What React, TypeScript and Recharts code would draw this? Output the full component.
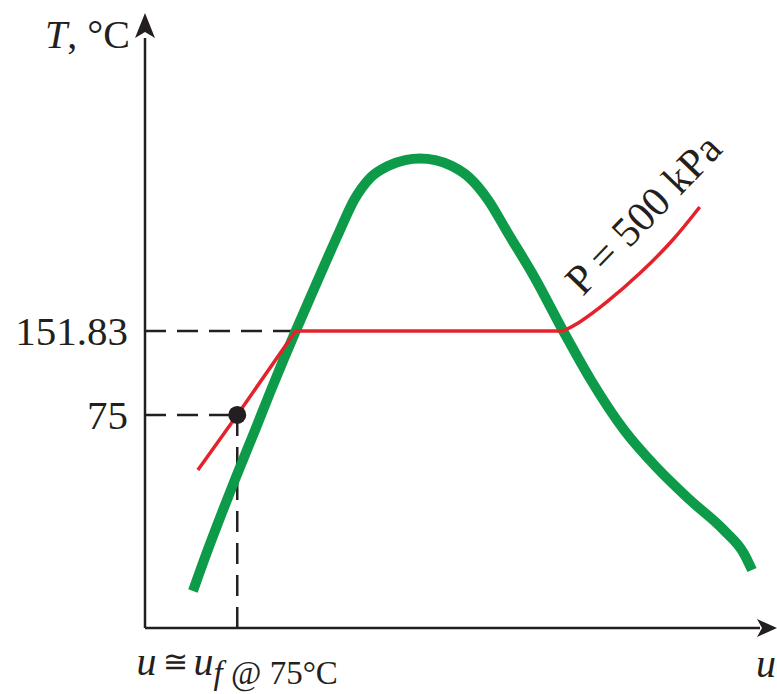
import { LineChart, Line, XAxis, YAxis, ReferenceLine, ReferenceDot } from 'recharts';

// Saturation dome (u in arbitrary units, T in °C)
const domeU = [7.8, 10.2, 12.5, 14.8, 17.9, 20.3, 22.5, 24.5, 27.9, 31.5, 34.0, 36.6, 39.5, 42.3, 44.7, 47.2, 49.9, 52.8, 55.8, 59.0, 63.3, 68.0, 72.5, 77.9, 83.1, 88.6, 94.1, 97.4, 98.7];
const domeT = [-86.1, -48.6, -14.7, 18.2, 61.2, 95.1, 125.3, 151.83, 195.8, 241.5, 271.7, 291.9, 302.8, 308.3, 309.7, 308.3, 302.8, 291.9, 271.7, 241.5, 201.3, 151.83, 107, 61.2, 27.4, -2.8, -30.3, -52, -66.9];

// P = 500 kPa isobar: compressed liquid, mixture, superheated vapor
const liquidU = [8.6, 15, 24.5];
const liquidT = [24.6, 75, 151.83];
const mixU = [24.5, 68.0];
const mixT = [151.83, 151.83];
const vaporU = [68.0, 70.7, 75.1, 80.5, 85.8, 90.2];
const vaporT = [151.83, 160.1, 178.4, 204.9, 235.1, 265.3];

const tSat = 151.83;
const tState = 75;
const uState = 15;
const yTicks = [tState, tSat];

const U_MIN = 0;
const U_MAX = 100;
const T_MIN = -120;
const T_MAX = 420;

const zip = (us: number[], ts: number[]) => us.map((u, i) => ({ u, T: ts[i] }));
const dome = zip(domeU, domeT);
const liquid = zip(liquidU, liquidT);
const mix = zip(mixU, mixT);
const vapor = zip(vaporU, vaporT);

const INK = '#231f20';
const GREEN = '#0d9b4a';
const RED = '#e4222b';
const FONT = '"Liberation Serif", "Times New Roman", serif';

const YTick = ({ x, y, payload }: any) => (
  <text x={x} y={y + 14} textAnchor="end" fontFamily={FONT} fontSize={41} fill={INK}>
    {payload.value}
  </text>
);

const XTick = ({ x, y }: any) => (
  <text x={x} y={y + 45} textAnchor="middle" fontFamily={FONT} fontSize={40} fill={INK}>
    <tspan fontStyle="italic">u</tspan>
    <tspan fontFamily='"DejaVu Serif", serif' fontSize={30} dx={6} dy={-3}>≅</tspan>
    <tspan fontStyle="italic" dx={6} dy={3}>u</tspan>
    <tspan fontStyle="italic" fontSize={33} dy={9}>f</tspan>
    <tspan fontSize={33}> @ 75°C</tspan>
  </text>
);

const UpArrow = ({ cx, cy }: any) => (
  <path d={`M${cx},${cy - 25} L${cx - 10},${cy} L${cx},${cy - 6} L${cx + 10},${cy} Z`} fill={INK} />
);

const RightArrow = ({ cx, cy }: any) => (
  <path d={`M${cx + 17},${cy} L${cx - 3},${cy - 9} L${cx + 2},${cy} L${cx - 3},${cy + 9} Z`} fill={INK} />
);

const TLabel = ({ cx, cy }: any) => (
  <text x={cx - 15} y={cy + 10} textAnchor="end" fontFamily={FONT} fontSize={40} fill={INK}>
    <tspan fontStyle="italic">T</tspan>, °C
  </text>
);

const ULabel = ({ cx, cy }: any) => (
  <text x={cx - 4} y={cy + 49} fontFamily={FONT} fontSize={40} fontStyle="italic" fill={INK}>
    u
  </text>
);

const IsobarLabel = ({ cx, cy }: any) => (
  <text x={cx} y={cy} transform={`rotate(-46 ${cx} ${cy})`} fontFamily={FONT} fontSize={42} fill={INK}>
    P = 500 kPa
  </text>
);

export default function App() {
  return (
    <div style={{ position: 'absolute', left: 0, top: 0, background: '#fff' }}>
      <LineChart width={777} height={694} margin={{ top: 38, right: 17, bottom: 16, left: 85 }}>
        <XAxis
          type="number"
          dataKey="u"
          domain={[U_MIN, U_MAX]}
          allowDataOverflow
          ticks={[uState]}
          tick={<XTick />}
          tickLine={false}
          tickSize={0}
          height={50}
          axisLine={{ stroke: INK, strokeWidth: 2.5 }}
        />
        <YAxis
          type="number"
          dataKey="T"
          domain={[T_MIN, T_MAX]}
          allowDataOverflow
          ticks={yTicks}
          tick={<YTick />}
          tickLine={false}
          tickSize={0}
          tickMargin={17}
          width={60}
          axisLine={{ stroke: INK, strokeWidth: 2.5 }}
        />

        <ReferenceLine
          segment={[{ x: U_MIN, y: tSat }, { x: mixU[0], y: tSat }]}
          stroke={INK}
          strokeWidth={2.5}
          strokeDasharray="21 11"
        />
        <ReferenceLine
          segment={[{ x: U_MIN, y: tState }, { x: uState, y: tState }]}
          stroke={INK}
          strokeWidth={2.5}
          strokeDasharray="21 11"
        />
        <ReferenceLine
          segment={[{ x: uState, y: tState }, { x: uState, y: T_MIN }]}
          stroke={INK}
          strokeWidth={2.5}
          strokeDasharray="21 11"
        />

        <Line data={dome} dataKey="T" type="monotone" stroke={GREEN} strokeWidth={10} dot={false} isAnimationActive={false} />
        <Line data={liquid} dataKey="T" type="linear" stroke={RED} strokeWidth={3.5} dot={false} isAnimationActive={false} />
        <Line data={mix} dataKey="T" type="linear" stroke={RED} strokeWidth={3.5} dot={false} isAnimationActive={false} />
        <Line data={vapor} dataKey="T" type="natural" stroke={RED} strokeWidth={3.5} dot={false} isAnimationActive={false} />

        <ReferenceDot x={uState} y={tState} r={9} fill={INK} stroke="none" />
        <ReferenceDot x={U_MIN} y={T_MAX} shape={<UpArrow />} />
        <ReferenceDot x={U_MIN} y={T_MAX} shape={<TLabel />} />
        <ReferenceDot x={U_MAX} y={T_MIN} shape={<RightArrow />} />
        <ReferenceDot x={U_MAX} y={T_MIN} shape={<ULabel />} />
        <ReferenceDot x={71.2} y={183} shape={<IsobarLabel />} />
      </LineChart>
    </div>
  );
}
